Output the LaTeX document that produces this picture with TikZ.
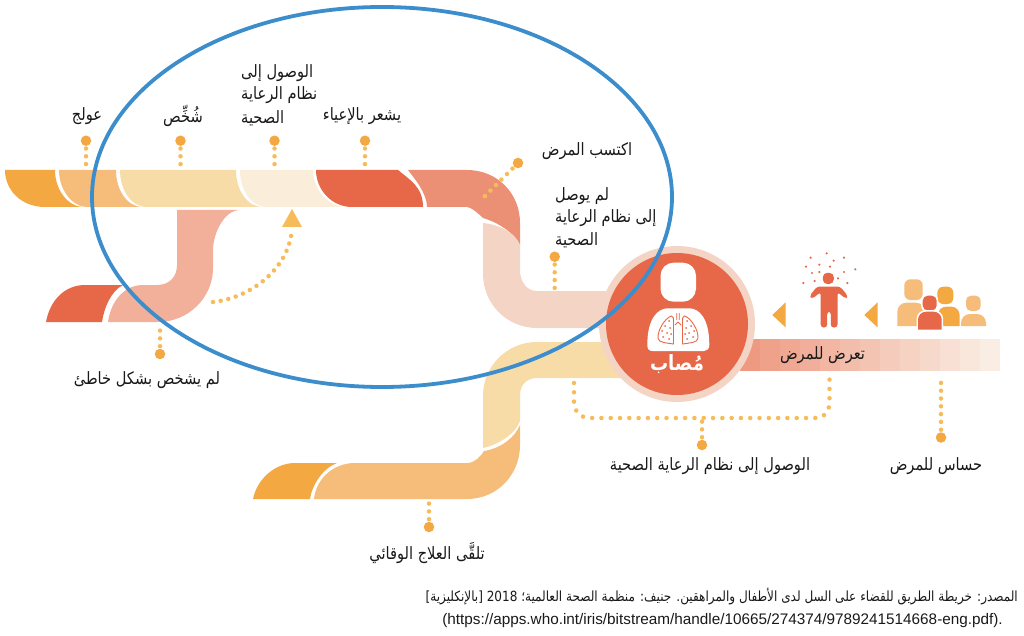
\documentclass[tikz,border=0pt]{standalone}
\usepackage{fontspec}
\TeXXeTstate=1
\newfontfamily\arabicfont[Script=Arabic,FakeStretch=0.86]{DejaVu Sans}
\newfontfamily\urlfont{Liberation Sans}
\newcommand{\ar}[1]{{\arabicfont\beginR #1\endR}}
\definecolor{cOrange}{HTML}{F3A842}
\definecolor{cMid}{HTML}{F6BC7A}
\definecolor{cSand}{HTML}{F8DCA8}
\definecolor{cCream}{HTML}{FAEEDA}
\definecolor{cRed}{HTML}{E76848}
\definecolor{cCoral}{HTML}{EB8F75}
\definecolor{cPeach}{HTML}{F4D5C5}
\definecolor{cSalmon}{HTML}{F2B09A}
\definecolor{cDot}{HTML}{F6BC5A}
\definecolor{cBlue}{HTML}{3B8DCB}
\definecolor{cBandL}{HTML}{EE9A82}
\definecolor{cBandR}{HTML}{FBF1E8}
\tikzset{
  lbl/.style={inner sep=0pt,font=\fontsize{17}{20}\selectfont,text=black!90},
  bigdot/.style={circle,fill=cOrange,minimum size=10.5pt,inner sep=0pt},
  dotline/.style={cDot,line width=4.5pt,line cap=round,dash pattern=on 0pt off 7.8pt},
  widedots/.style={cDot,line width=4.5pt,line cap=round,dash pattern=on 0pt off 9.3pt},
}
\newcommand{\pbody}[6]{\fill[#1] (#2,#5) [rounded corners=#6] -- (#2,#4) -- (#3,#4) [sharp corners] -- (#3,#5) -- cycle;}
\begin{document}
\begin{tikzpicture}[x=1pt,y=-1pt]
\useasboundingbox (0,0) rectangle (1024,636);
% top band
\fill[cOrange] (5,170) -- (55,170) .. controls +(0,20) and +(-16,0) .. (84,207) -- (45,207) .. controls +(-24,0) and +(0,20) .. (5,170) -- cycle;
\fill[cMid] (59,170) -- (116,170) .. controls +(0,20) and +(-16,0) .. (143,207) -- (88,207) .. controls +(-16,0) and +(0,20) .. (59,170) -- cycle;
\fill[cSand] (120,170) -- (236,170) .. controls +(0,20) and +(-16,0) .. (263,207) -- (147,207) .. controls +(-16,0) and +(0,20) .. (120,170) -- cycle;
\fill[cCream] (240,170) -- (313,170) .. controls +(0,20) and +(-16,0) .. (345,207) -- (267,207) .. controls +(-16,0) and +(0,20) .. (240,170) -- cycle;
\fill[cRed] (316,170) -- (398,170) .. controls +(12,10) and +(0,-20) .. (423,207) -- (352,207) .. controls +(-20,0) and +(0,20) .. (316,170) -- cycle;
\fill[cCoral] (408,170) -- (467,170) .. controls +(30,0) and +(0,-30) .. (520,223) -- (520,245) .. controls +(-5,-12) and +(14,4) .. (483,218) .. controls +(-4,-4) and +(4,0) .. (467,207) -- (427,207) .. controls +(0,-14) and +(6,8) .. (408,170) -- cycle;
\fill[cPeach] (483,223) .. controls +(18,2) and +(-5,-12) .. (520,245) -- (520,270) .. controls +(0,12) and +(-10,0) .. (537,291) -- (640,291) -- (640,328) -- (537,328) .. controls +(-30,0) and +(0,30) .. (483,274) -- cycle;
% lower-left band
\fill[cSalmon] (177,210) -- (240,210) .. controls +(-16,0) and +(0,-16) .. (213,250) -- (213,268) .. controls +(0,30) and +(30,0) .. (158,322) -- (108,322) .. controls +(3,-22) and +(-18,0) .. (143,285) -- (157,285) .. controls +(12,0) and +(0,12) .. (177,265) -- cycle;
\fill[cRed] (46,322) .. controls +(4,-22) and +(-20,0) .. (85,285) -- (123,285) .. controls +(-12,6) and +(2,-14) .. (102,322) -- cycle;
% bottom band
\fill[cOrange] (253,499) .. controls +(4,-20) and +(-20,0) .. (295,463) -- (337,463) .. controls +(-14,5) and +(2,-14) .. (310,499) -- cycle;
\fill[cMid] (314,499) .. controls +(2,-20) and +(-22,0) .. (355,463) -- (467,463) .. controls +(8,0) and +(-3,5) .. (484,451) .. controls +(18,-3) and +(-5,12) .. (520,425) -- (520,445) .. controls +(0,30) and +(30,0) .. (467,499) -- cycle;
\fill[cSand] (537,342) -- (640,342) -- (640,378) -- (537,378) .. controls +(-10,0) and +(0,-10) .. (520,395) -- (520,405) .. controls +(0,3) and +(0,-6) .. (520,421) .. controls +(-5,14) and +(14,-3) .. (483,448) -- (483,396) .. controls +(0,-30) and +(-30,0) .. (537,342) -- cycle;
% exposure band
\foreach \i in {0,...,12}{
  \pgfmathtruncatemacro{\p}{100-\i*8}
  \fill[cBandL!\p!cBandR] ({740+20*\i},338.5) rectangle ({760.5+20*\i-(\i==12?0.5:0)},371);
}
% circle
\node[circle,fill=cPeach,minimum size=156pt,inner sep=0pt] (ring) at (677,324) {};
\node[circle,fill=cRed,minimum size=142pt,inner sep=0pt] (disc) at (677,324) {};
\fill[white,rounded corners=13pt] (660.5,262.7) rectangle (696,301.7);
\fill[white] (647.3,345) .. controls (647.3,318) and (658,308.3) .. (668,308.3) -- (689,308.3) .. controls (699,308.3) and (709.3,318) .. (709.3,345) .. controls (709.3,349) and (707,351) .. (704,351) -- (652.5,351) .. controls (649,351) and (647.3,349) .. (647.3,345) -- cycle;
\foreach \s in {1,-1}{
\begin{scope}[shift={(678,0)},xscale=\s]
  \draw[cRed,line width=0.9pt] (-6.5,316) .. controls (-13,318) and (-20.5,330) .. (-20,338) .. controls (-20,343) and (-10,343) .. (-4.5,344) -- (-4.5,323) .. controls (-4.5,318) and (-4.5,316) .. (-6.5,316) -- cycle;
  \draw[cRed,line width=0.8pt] (0,322) -- (-3,325) (1.2,313) -- (1.2,320);
  \foreach \X/\Y in {-9/321,-13/326,-8/328,-16/331,-11/333,-7/334,-15/337,-9/339}{
    \fill[cRed] (\X,\Y) circle (1pt);
  }
\end{scope}}
\node[inner sep=0pt,font=\fontsize{21}{23}\selectfont\bfseries,text=white] (infected) at (677,364) {\ar{مُصاب}};
% person
\fill[cRed,rounded corners=4.5pt] (822.8,272.8) rectangle (833.8,284);
\fill[cRed,rounded corners=3pt] (817,286.5) -- (840,286.5) -- (848,296) -- (846,299) -- (837.5,292) -- (837.5,327.5) -- (830.8,327.5) -- (830.8,311.5) -- (827.2,311.5) -- (827.2,327.5) -- (820.7,327.5) -- (820.7,292) -- (812,299) -- (809.5,296) -- cycle;
\foreach \X/\Y in {662/53,710/40,731/62,762/53,648/80,688/74,720/80,796/88,666/99,688/96,762/96,744/115,674/123,640/129,772/129}{
  \fill[cRed] ({590+\X/3},{240+\Y/3}) circle (1.2pt);
}
% triangles
\fill[cOrange] (772.3,315) -- (785.7,302.3) -- (785.7,327.5) -- cycle;
\fill[cOrange] (864.3,315) -- (877.7,302.3) -- (877.7,327.5) -- cycle;
% people
\fill[cMid,rounded corners=6pt] (904.3,279.3) rectangle (922.7,300);
\pbody{cMid}{897.3}{925}{302.7}{326}{9pt}
\fill[cOrange,rounded corners=6pt] (937.3,286.7) rectangle (953.3,304);
\pbody{cOrange}{938}{959.5}{306.7}{326}{8pt}
\fill[cMid,rounded corners=5pt] (966,295.7) rectangle (980.7,311);
\pbody{cMid}{961}{986}{314}{326}{9pt}
\fill[white,rounded corners=6pt] (921.2,294.2) rectangle (938.2,312);
\fill[cRed,rounded corners=5pt] (922.7,295.7) rectangle (936.7,310.5);
\pbody{white}{916.5}{943.2}{310.2}{330}{9pt}
\pbody{cRed}{918}{941.7}{311.7}{329.5}{8pt}
% ellipse
\draw[cBlue,line width=3.8pt] (382,197) ellipse [x radius=290,y radius=190];
% big dots and leaders
\node[bigdot] (d1) at (86,140.7) {};
\node[bigdot] (d2) at (180.5,140.7) {};
\node[bigdot] (d3) at (274.5,140.7) {};
\node[bigdot] (d4) at (365,140.7) {};
\node[bigdot] (d5) at (518,163) {};
\node[bigdot] (d6) at (554.7,256.7) {};
\node[bigdot] (d7) at (160,354) {};
\node[bigdot] (d8) at (429,527) {};
\node[bigdot] (d9) at (702,445) {};
\node[bigdot] (d10) at (941,437.5) {};
\coordinate (e1) at (86,167);
\coordinate (e2) at (180.5,167);
\coordinate (e3) at (274.5,167);
\coordinate (e4) at (365,167);
\coordinate (e5) at (483,198);
\coordinate (e6) at (554.7,290);
\coordinate (e7) at (160,323);
\coordinate (e8) at (429,502);
\coordinate (e9) at (702,418);
\coordinate (e10) at (941,377);
\foreach \n in {1,...,10}{\draw[dotline,shorten <=7.8pt] (d\n.center) -- (e\n);}
\coordinate (bl) at (574,383);
\coordinate (br) at (829.5,378.5);
\draw[widedots] (bl) -- (574,402) .. controls (574,412) and (581,418) .. (590,418) -- (815,418) .. controls (824,418) and (829.5,412) .. (829.5,402) -- (br);
% dotted arc and triangle
\coordinate (arcA) at (213,302);
\coordinate (arcB) at (292,230);
\fill[cDot] (292,209) -- (302,227) -- (282,227) -- cycle;
\draw[dotline] (arcA) .. controls (250,298) and (288,270) .. (arcB);
% labels
\node[lbl] (t1) at (87,116) {\ar{عولج}};
\node[lbl] (t2) at (183,116) {\ar{شُخِّص}};
\node[lbl,anchor=west] (t3a) at (241,73) {\ar{الوصول إلى}};
\node[lbl,anchor=west] (t3b) at (241,95.5) {\ar{نظام الرعاية}};
\node[lbl,anchor=west] (t3c) at (241,118) {\ar{الصحية}};
\node[lbl] (t4) at (362,116) {\ar{يشعر بالإعياء}};
\node[lbl] (t5) at (587,151) {\ar{اكتسب المرض}};
\node[lbl,anchor=west] (t6a) at (555,196) {\ar{لم يوصل}};
\node[lbl,anchor=west] (t6b) at (555,218) {\ar{إلى نظام الرعاية}};
\node[lbl,anchor=west] (t6c) at (555,240.7) {\ar{الصحية}};
\node[lbl] (t7) at (147,380) {\ar{لم يشخص بشكل خاطئ}};
\node[lbl] (t8) at (427,553) {\ar{تلقَّى العلاج الوقائي}};
\node[lbl] (t9) at (710,466) {\ar{الوصول إلى نظام الرعاية الصحية}};
\node[lbl] (t10) at (936,466) {\ar{حساس للمرض}};
\node[lbl] (t11) at (822.5,355) {\ar{تعرض للمرض}};
\node[lbl,anchor=east,font=\fontsize{14}{16}\selectfont] (src1) at (1018,597) {\ar{المصدر: خريطة الطريق للقضاء على السل لدى الأطفال والمراهقين. جنيف: منظمة الصحة العالمية؛ \beginL 2018\endL{} [بالإنكليزية]}};
\node[lbl,anchor=east,font=\urlfont\fontsize{15.3}{18}\selectfont] (src2) at (1003,621) {(https://apps.who.int/iris/bitstream/handle/10665/274374/9789241514668-eng.pdf).};
\end{tikzpicture}
\end{document}
